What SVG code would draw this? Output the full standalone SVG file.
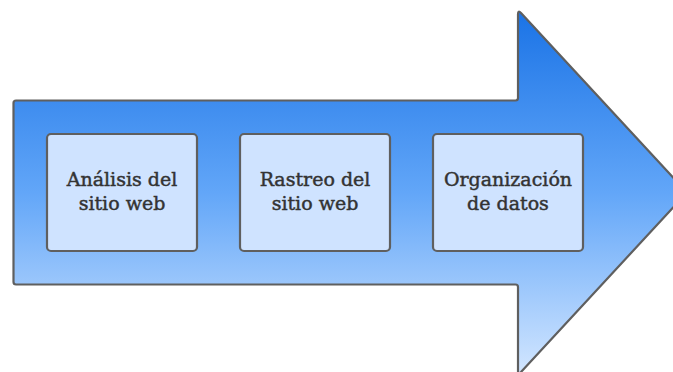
<svg xmlns="http://www.w3.org/2000/svg" width="673" height="372" viewBox="0 0 673 372">
<defs>
<linearGradient id="g" gradientUnits="userSpaceOnUse" x1="0" y1="11" x2="0" y2="374">
<stop offset="0" stop-color="#1a73e6"/>
<stop offset="0.5" stop-color="#62a6f8"/>
<stop offset="1" stop-color="#d2e6ff"/>
</linearGradient>
</defs>
<style>
.box{fill:#cfe3ff;stroke:#5f5f5f;stroke-width:2.2}
.t{font-family:"DejaVu Serif","Liberation Serif",serif;font-size:19px;fill:#333333;stroke:#333333;stroke-width:0.45;text-anchor:middle}
</style>
<g id="arrow">
<path d="M16,100.5 L515.5,100.5 Q518,100.5 518,98 L518,14 Q518,10 521,13 L687,192.5 L521,372 Q518,375 518,371 L518,287 Q518,284.5 515.5,284.5 L16,284.5 Q13.5,284.5 13.5,282 L13.5,103 Q13.5,100.5 16,100.5 Z" fill="url(#g)" stroke="#5f5f5f" stroke-width="2.2" stroke-linejoin="round"/>
</g>
<g id="connectors"></g>
<g id="n1">
<rect class="box" x="47" y="134" width="150" height="117" rx="4"/>
<text class="t" x="122" y="186">Análisis del</text>
<text class="t" x="122" y="210">sitio web</text>
</g>
<g id="n2">
<rect class="box" x="240" y="134" width="150" height="117" rx="4"/>
<text class="t" x="315" y="186">Rastreo del</text>
<text class="t" x="315" y="210">sitio web</text>
</g>
<g id="n3">
<rect class="box" x="433" y="134" width="150" height="117" rx="4"/>
<text class="t" x="508" y="186">Organización</text>
<text class="t" x="508" y="210">de datos</text>
</g>
</svg>
